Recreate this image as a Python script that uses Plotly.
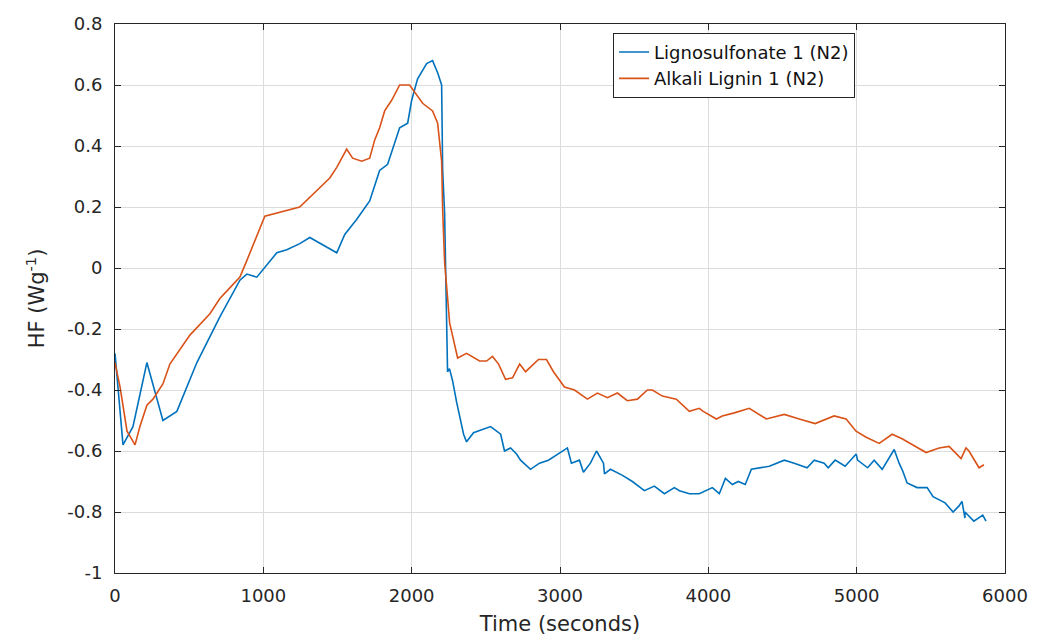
import plotly.graph_objects as go

# Lignosulfonate 1 (N2)
ls_x = [0, 54, 121, 215, 323, 417, 552, 707, 842, 889, 956, 1024, 1091, 1158, 1246, 1313,
        1428, 1495, 1549, 1630, 1717, 1784, 1838, 1872, 1919, 1973, 2000, 2040, 2101, 2141,
        2175, 2202, 2209, 2222, 2229, 2242, 2255, 2276, 2303, 2330, 2350, 2370, 2417, 2532,
        2600, 2626, 2667, 2707, 2734, 2801, 2862, 2922, 2983, 3050, 3077, 3131, 3158, 3205,
        3246, 3293, 3300, 3340, 3421, 3488, 3569, 3636, 3704, 3771, 3805, 3872, 3939, 4027,
        4074, 4115, 4162, 4202, 4249, 4290, 4411, 4512, 4579, 4666, 4714, 4781, 4808, 4855,
        4922, 4997, 5006, 5074, 5118, 5172, 5253, 5286, 5310, 5340, 5407, 5475, 5515, 5596,
        5650, 5690, 5710, 5720, 5730, 5730, 5790, 5850, 5872]
ls_y = [-0.28, -0.58, -0.52, -0.31, -0.50, -0.47, -0.31, -0.16, -0.04, -0.02, -0.03, 0.01,
        0.05, 0.06, 0.08, 0.10, 0.07, 0.05, 0.11, 0.16, 0.22, 0.32, 0.34, 0.39, 0.46, 0.475,
        0.55, 0.62, 0.67, 0.68, 0.64, 0.60, 0.32, 0.18, 0.0, -0.34, -0.33, -0.37, -0.44, -0.50,
        -0.545, -0.57, -0.54, -0.52, -0.545, -0.60, -0.59, -0.61, -0.63, -0.66, -0.64, -0.63,
        -0.61, -0.59, -0.64, -0.63, -0.67, -0.64, -0.60, -0.64, -0.675, -0.66, -0.68, -0.70,
        -0.73, -0.715, -0.74, -0.72, -0.73, -0.74, -0.74, -0.72, -0.74, -0.69, -0.71, -0.70,
        -0.71, -0.66, -0.65, -0.63, -0.64, -0.655, -0.63, -0.64, -0.655, -0.63, -0.65, -0.61,
        -0.63, -0.655, -0.63, -0.66, -0.595, -0.64, -0.665, -0.705, -0.72, -0.72, -0.75, -0.77,
        -0.80, -0.78, -0.765, -0.80, -0.82, -0.80, -0.83, -0.81, -0.83]

# Alkali Lignin 1 (N2)
al_x = [0, 34, 81, 135, 168, 215, 256, 323, 370, 505, 640, 707, 774, 842, 885, 1010, 1245,
        1448, 1495, 1562, 1602, 1663, 1717, 1751, 1784, 1818, 1865, 1919, 1986, 2033, 2074,
        2141, 2175, 2202, 2209, 2222, 2242, 2256, 2310, 2370, 2458, 2505, 2545, 2586, 2633,
        2680, 2728, 2768, 2855, 2909, 2956, 3030, 3098, 3185, 3252, 3320, 3387, 3454, 3522,
        3589, 3623, 3690, 3784, 3872, 3939, 3966, 4054, 4094, 4175, 4276, 4391, 4512, 4613,
        4720, 4848, 4929, 4996, 5064, 5152, 5239, 5306, 5374, 5468, 5556, 5623, 5704, 5737,
        5757, 5825, 5858]
al_y = [-0.31, -0.39, -0.535, -0.58, -0.52, -0.45, -0.43, -0.38, -0.315, -0.22, -0.15,
        -0.10, -0.065, -0.03, 0.02, 0.17, 0.20, 0.295, 0.33, 0.39, 0.36, 0.35, 0.36, 0.42,
        0.46, 0.515, 0.55, 0.60, 0.60, 0.57, 0.54, 0.515, 0.475, 0.35, 0.19, 0.02, -0.085,
        -0.18, -0.295, -0.28, -0.305, -0.305, -0.29, -0.315, -0.365, -0.36, -0.315, -0.34,
        -0.30, -0.30, -0.34, -0.39, -0.40, -0.43, -0.41, -0.425, -0.41, -0.435, -0.43, -0.40,
        -0.40, -0.42, -0.43, -0.47, -0.46, -0.47, -0.495, -0.485, -0.475, -0.46, -0.495,
        -0.48, -0.495, -0.51, -0.485, -0.495, -0.535, -0.555, -0.575, -0.545, -0.56, -0.58,
        -0.605, -0.59, -0.585, -0.625, -0.59, -0.60, -0.655, -0.645]

x_ticks = [0, 1000, 2000, 3000, 4000, 5000, 6000]
y_ticks = [-1, -0.8, -0.6, -0.4, -0.2, 0, 0.2, 0.4, 0.6, 0.8]
y_tick_text = ["-1", "-0.8", "-0.6", "-0.4", "-0.2", "0", "0.2", "0.4", "0.6", "0.8"]

FONT = "DejaVu Sans, Liberation Sans, Arial"

fig = go.Figure()
fig.add_trace(go.Scatter(x=ls_x, y=ls_y, mode="lines", name="Lignosulfonate 1 (N2)",
                         line=dict(color="#0072BD", width=1.6)))
fig.add_trace(go.Scatter(x=al_x, y=al_y, mode="lines", name="Alkali Lignin 1 (N2)",
                         line=dict(color="#D95319", width=1.6)))

axis_common = dict(showline=True, linecolor="#262626", linewidth=1, mirror="ticks",
                   ticks="inside", ticklen=6, tickcolor="#262626",
                   showgrid=True, gridcolor="#dcdcdc", gridwidth=1, zeroline=False,
                   automargin=False,
                   tickfont=dict(family=FONT, size=18, color="#262626"))

fig.update_layout(
    width=1038, height=635,
    margin=dict(l=107, r=41, t=16, b=70),
    paper_bgcolor="white", plot_bgcolor="white",
    font=dict(family=FONT, color="#262626"),
    xaxis=dict(range=[0, 6000], tickvals=x_ticks, ticklabelstandoff=6,
               title=dict(text="Time (seconds)", font=dict(size=21), standoff=11),
               **axis_common),
    yaxis=dict(range=[-1, 0.8], tickvals=y_ticks, ticktext=y_tick_text,
               ticklabelstandoff=8,
               title=dict(text="HF (Wg<sup>-1</sup>)", font=dict(size=21), standoff=16),
               **axis_common),
    legend=dict(x=0.5596, y=0.984, xanchor="left", yanchor="top",
                bordercolor="#262626", borderwidth=1, bgcolor="white",
                font=dict(family=FONT, size=18, color="#111111"), tracegroupgap=0),
    showlegend=True,
)

fig.write_html("out.html")
